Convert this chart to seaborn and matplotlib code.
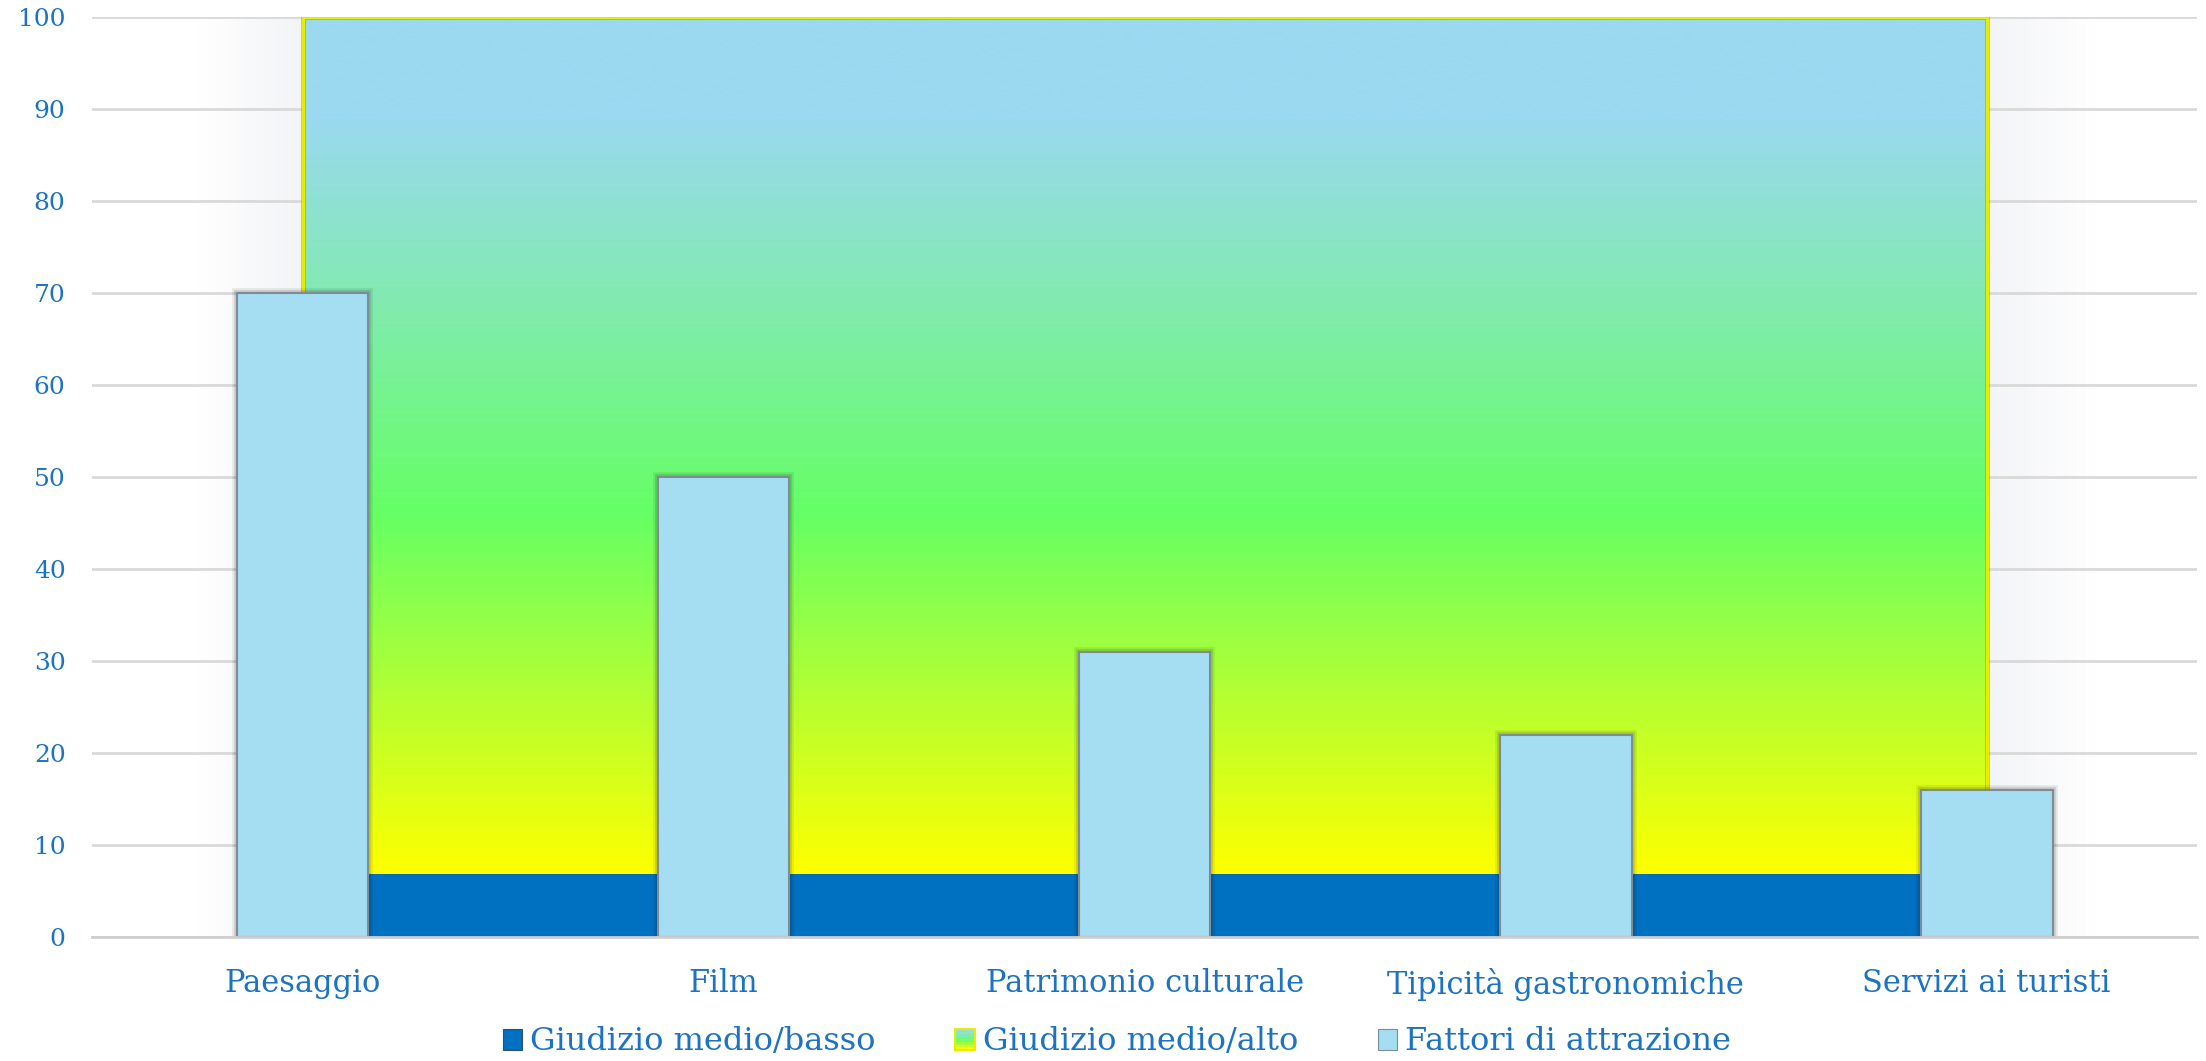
import numpy as np
import pandas as pd
import matplotlib
matplotlib.use("Agg")
import matplotlib.pyplot as plt
import matplotlib.patheffects as pe
from matplotlib.colors import LinearSegmentedColormap
from matplotlib.patches import Rectangle
from matplotlib.legend_handler import HandlerBase
import seaborn as sns

# --- data ---
categories = ["Paesaggio", "Film", "Patrimonio culturale",
              "Tipicità gastronomiche", "Servizi ai turisti"]
attrazione = [70, 50, 31, 22, 16]          # Fattori di attrazione (bars)
giudizio_basso = [6.8, 6.8, 6.8, 6.8, 6.8]  # Giudizio medio/basso (area)
giudizio_alto = [100, 100, 100, 100, 100]   # Giudizio medio/alto (area top)
y_ticks = [0, 10, 20, 30, 40, 50, 60, 70, 80, 90, 100]

TEXT_BLUE = "#1c73c2"
DARK_BLUE = "#0070c0"
BAR_FILL = "#a5ddf2"
BAR_EDGE = "#7d8c96"
EDGE_YELLOW = "#e6ee00"

sns.set_theme(style="white")
plt.rcParams["font.family"] = ["DejaVu Serif"]

df = pd.DataFrame({"categoria": categories, "valore": attrazione})

fig = plt.figure(figsize=(22.06, 10.61), dpi=100)
ax = fig.add_axes([0.0417, 0.1169, 0.9543, 0.8671])

x = np.arange(len(categories))
xmin, xmax = x[0], x[-1]

# soft glow around the area chart
glow_cmap = LinearSegmentedColormap.from_list("glow", ["#ffffff", "#f3f4f7"])
ramp = np.linspace(0, 1, 64).reshape(1, -1)
ax.imshow(ramp, cmap=glow_cmap, aspect="auto", extent=[xmin - 0.25, xmin, 0, 100],
          zorder=0.5, interpolation="bilinear")
ax.imshow(ramp[:, ::-1], cmap=glow_cmap, aspect="auto", extent=[xmax, xmax + 0.26, 0, 100],
          zorder=0.5, interpolation="bilinear")

# gradient area between the low band and the top
low = giudizio_basso[0]
stops = [(low, "#ffff00"), (46, "#66ff66"), (89, "#9ad9f0"), (100, "#9ad9f0")]
grad_cmap = LinearSegmentedColormap.from_list(
    "giudizio",
    [((v - low) / (100 - low), c) for v, c in stops])
vert = np.linspace(0, 1, 512).reshape(-1, 1)
ax.imshow(vert, cmap=grad_cmap, aspect="auto", origin="lower",
          extent=[xmin, xmax, low, 100], zorder=1.5, interpolation="bilinear")
ax.fill_between(x, giudizio_basso, giudizio_alto, facecolor="none",
                edgecolor="none", zorder=1.5)
ax.plot([xmin, xmin, xmax, xmax], [low, 100, 100, low], color=EDGE_YELLOW, lw=2.2,
        zorder=1.7, solid_joinstyle="miter",
        path_effects=[pe.Stroke(linewidth=3.5, foreground="#8a8a8a", alpha=0.5), pe.Normal()])

# dark blue low band
ax.fill_between(x, 0, giudizio_basso, color=DARK_BLUE, lw=0, zorder=1.6)

# bars
sns.barplot(data=df, x="categoria", y="valore", color=BAR_FILL, width=0.313,
            saturation=1, edgecolor=BAR_EDGE, linewidth=1.5, ax=ax, zorder=3)
for patch in ax.patches:
    patch.set_path_effects([pe.Stroke(linewidth=7, foreground="black", alpha=0.08),
                            pe.Stroke(linewidth=4, foreground="black", alpha=0.12),
                            pe.Normal()])

# axes styling
ax.set_xlim(-0.5, 4.5)
ax.set_ylim(0, 100)
ax.set_yticks(y_ticks)
ax.set_xlabel("")
ax.set_ylabel("")
ax.grid(axis="y", color="#d9d9d9", lw=2, zorder=0.8)
ax.grid(axis="x", visible=False)
ax.set_axisbelow(True)
for side in ["left", "right", "top"]:
    ax.spines[side].set_visible(False)
ax.spines["bottom"].set_color("#cfcfcf")
ax.spines["bottom"].set_linewidth(2)
ax.spines["bottom"].set_zorder(3.5)
ax.tick_params(axis="y", length=0, pad=19, labelsize=18, labelcolor=TEXT_BLUE)
ax.tick_params(axis="x", length=0, pad=22, labelsize=22, labelcolor=TEXT_BLUE)


class GradientHandler(HandlerBase):
    def create_artists(self, legend, orig_handle, xdescent, ydescent,
                       width, height, fontsize, trans):
        arts = []
        n = 8
        for i in range(n):
            frac = i / (n - 1)
            arts.append(Rectangle((-xdescent, -ydescent + height * i / n), width,
                                  height / n, facecolor=grad_cmap(frac * 0.9),
                                  edgecolor="none", transform=trans))
        arts.append(Rectangle((-xdescent, -ydescent), width, height, facecolor="none",
                              edgecolor=EDGE_YELLOW, lw=1.5, transform=trans))
        return arts


h_basso = Rectangle((0, 0), 1, 1, facecolor=DARK_BLUE, edgecolor="#2a4f70", lw=0.8)
h_alto = Rectangle((0, 0), 1, 1)
h_attr = Rectangle((0, 0), 1, 1, facecolor=BAR_FILL, edgecolor=BAR_EDGE, lw=0.8)
leg = fig.legend([h_basso, h_alto, h_attr],
                 ["Giudizio medio/basso", "Giudizio medio/alto", "Fattori di attrazione"],
                 handler_map={h_alto: GradientHandler()},
                 loc="center", bbox_to_anchor=(0.5063, 0.018), ncol=3, frameon=False,
                 fontsize=23, handlelength=0.6, handleheight=0.65, handletextpad=0.25,
                 columnspacing=2.5, labelcolor=TEXT_BLUE, borderaxespad=0, borderpad=0)

fig.savefig("out.png", dpi=100, facecolor="white")
